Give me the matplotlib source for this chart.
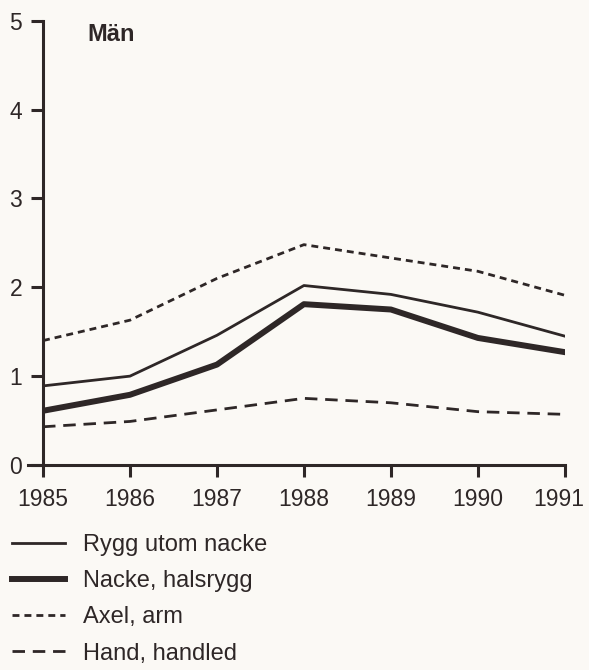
import matplotlib
matplotlib.use("Agg")
import matplotlib.pyplot as plt
import matplotlib.transforms as mtransforms

plt.rcParams["font.family"] = ["Liberation Sans", "DejaVu Sans"]

years = [1985, 1986, 1987, 1988, 1989, 1990, 1991]
rygg = [0.89, 1.00, 1.46, 2.02, 1.92, 1.72, 1.45]
nacke = [0.61, 0.79, 1.13, 1.81, 1.75, 1.43, 1.27]
axel = [1.40, 1.63, 2.10, 2.48, 2.33, 2.18, 1.91]
hand = [0.43, 0.49, 0.62, 0.75, 0.70, 0.60, 0.57]

ink = "#2e2727"
paper = "#fbf9f5"

fig = plt.figure(figsize=(5.89, 6.70), dpi=100, facecolor=paper)
ax = fig.add_axes([0.073, 0.306, 0.886, 0.663])

l1, = ax.plot(years, rygg, color=ink, lw=2.0, label="Rygg utom nacke")
l2, = ax.plot(years, nacke, color=ink, lw=4.3, label="Nacke, halsrygg")
l3, = ax.plot(years, axel, color=ink, lw=2.0, dashes=(2.5, 1.8), label="Axel, arm")
l4, = ax.plot(years, hand, color=ink, lw=2.0, dashes=(4.5, 2.8), label="Hand, handled")

ax.set_xlim(1985, 1991)
ax.set_ylim(0, 5)
ax.set_xticks(years)
ax.set_yticks([0, 1, 2, 3, 4, 5])
for s in ["top", "right"]:
    ax.spines[s].set_visible(False)
for s in ["left", "bottom"]:
    ax.spines[s].set_linewidth(2.2)
    ax.spines[s].set_color(ink)
ax.spines["bottom"].set_bounds(1984.83, 1991)
ax.tick_params(axis="y", length=9, width=2.2, pad=6, labelsize=16.5, colors=ink)
ax.tick_params(axis="x", length=8.5, width=2.2, pad=8, labelsize=16.5, colors=ink)
ax.patch.set_visible(False)

# sista årtalet lite åt vänster så det inte klipps
last = ax.get_xticklabels()[-1]
last.set_transform(last.get_transform() + mtransforms.ScaledTranslation(-6 / 100, 0, fig.dpi_scale_trans))

ax.text(1985.51, 4.85, "Män", fontsize=17, fontweight="bold", color=ink, va="center")

fig.legend(handles=[l1, l2, l3, l4], loc="upper left", bbox_to_anchor=(0.008, 0.2135),
           frameon=False, fontsize=17, handlelength=2.25, handletextpad=0.75,
           labelspacing=0.6, borderaxespad=0.0, borderpad=0.3, labelcolor=ink)

fig.savefig("out.png", dpi=100, facecolor=paper)
